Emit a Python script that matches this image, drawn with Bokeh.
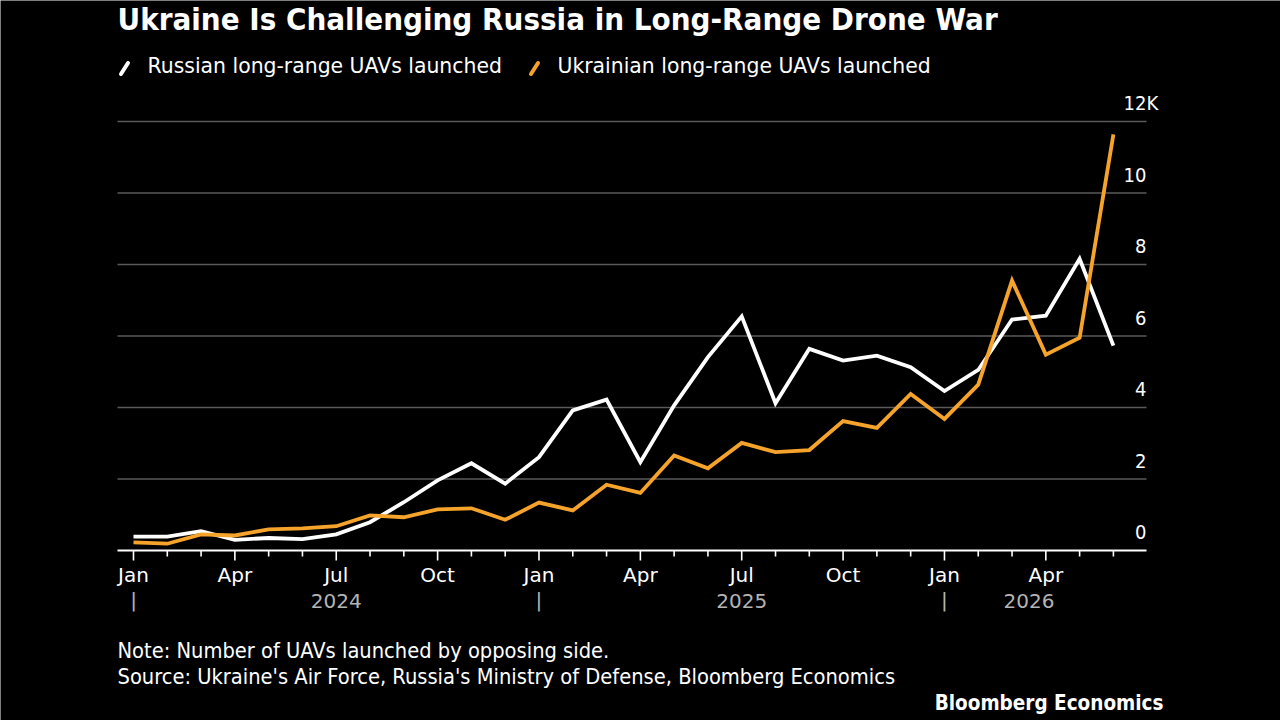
from bokeh.plotting import figure
from bokeh.models import Range1d, Label
from bokeh.embed import file_html
from bokeh.resources import INLINE
from bokeh.core.properties import value
import pandas as pd

# ---------------- data ----------------
months = pd.date_range("2024-01-01", "2026-06-01", freq="MS")
russia = [390, 390, 540, 300, 350, 320, 450, 790, 1350, 1960, 2440, 1870,
          2610, 3920, 4220, 2470, 4060, 5410, 6550, 4120, 5640, 5310, 5450, 5130,
          4460, 5050, 6460, 6570, 8160, 5730]
ukraine = [230, 190, 450, 420, 590, 620, 680, 980, 930, 1150, 1180, 860,
           1340, 1120, 1840, 1610, 2660, 2300, 3010, 2750, 2810, 3620, 3430, 4380,
           3680, 4640, 7550, 5480, 5950, 11640]
y_ticks = [0, 2000, 4000, 6000, 8000, 10000, 12000]
y_tick_labels = ["0", "2", "4", "6", "8", "10", "12"]
y_unit_suffix = "K"
month_tick_names = {1: "Jan", 4: "Apr", 7: "Jul", 10: "Oct"}
series_names = ["Russian long-range UAVs launched", "Ukrainian long-range UAVs launched"]
title_text = "Ukraine Is Challenging Russia in Long-Range Drone War"
note_text = "Note: Number of UAVs launched by opposing side."
source_text = "Source: Ukraine's Air Force, Russia's Ministry of Defense, Bloomberg Economics"
brand_text = "Bloomberg Economics"

# ---------------- layout ----------------
W, H = 1280, 720
X0_PX, Y0_PX = 133, 550          # pixel of first month / zero line
PX_PER_MONTH = 33.79
PX_PER_UNIT = 35.75 / 1000
PANEL_L, PANEL_R = 117, 1163
X_LEFT = (PANEL_L - X0_PX) / PX_PER_MONTH
X_RIGHT = (1146 - X0_PX) / PX_PER_MONTH

def px2x(px):
    return (px - X0_PX) / PX_PER_MONTH

def px2y(py):
    return (Y0_PX - py) / PX_PER_UNIT

WHITE = "#ffffff"
ORANGE = "#f5a32a"
GRID = "#5a5a5a"
YEAR_GREY = "#b4b4b4"
REG = "DejaVu Sans"
COND = "DejaVu Sans Condensed"

p = figure(width=W, height=H, output_backend="svg", toolbar_location=None,
           x_range=Range1d(px2x(0), px2x(W)), y_range=Range1d(px2y(H), px2y(0)),
           x_axis_location=None, y_axis_location=None, min_border=0,
           background_fill_color="black", border_fill_color="black",
           outline_line_color=None)
p.grid.visible = False

idx = list(range(len(months)))

# gridlines
gy = [v for v in y_ticks if v != 0]
p.segment(x0=[X_LEFT] * len(gy), x1=[X_RIGHT] * len(gy), y0=gy, y1=gy,
          line_color=GRID, line_width=1.6)
# axis line
p.segment(x0=[X_LEFT], x1=[X_RIGHT], y0=[y_ticks[0]], y1=[y_ticks[0]],
          line_color=WHITE, line_width=2)
# ticks
major = [i for i, m in zip(idx, months) if m.month in month_tick_names]
minor = [i for i, m in zip(idx, months) if m.month not in month_tick_names]
p.segment(x0=major, x1=major, y0=[0] * len(major), y1=[-10 / PX_PER_UNIT] * len(major),
          line_color=WHITE, line_width=1.6)
p.segment(x0=minor, x1=minor, y0=[0] * len(minor), y1=[-6 / PX_PER_UNIT] * len(minor),
          line_color=WHITE, line_width=1.6)

# month labels (y_offset = vertical centre of capitals below zero line)
p.text(x=major, y=[0] * len(major),
       text=[month_tick_names[months[i].month] for i in major],
       text_color=WHITE, text_font=value(REG), text_font_size="20px",
       text_align="center", text_baseline="alphabetic", y_offset=24.5)

# year labels
years = sorted(set(m.year for m in months))
year_centers, year_starts = [], []
for yv in years:
    ii = [i for i, m in zip(idx, months) if m.year == yv]
    start = ii[0]
    end = min(start + 12, idx[-1])
    year_centers.append((start + end) / 2)
    year_starts.append(start)
p.text(x=year_centers, y=[0] * len(years), text=[str(y) for y in years],
       text_color=YEAR_GREY, text_font=value(REG), text_font_size="20px",
       text_align="center", text_baseline="alphabetic", y_offset=50.5)
p.text(x=year_starts, y=[0] * len(years), text=["|"] * len(years),
       text_color=YEAR_GREY, text_font=value(REG), text_font_size="20px",
       text_align="center", text_baseline="alphabetic", y_offset=49.5)

# y labels
p.text(x=[X_RIGHT] * len(y_ticks), y=y_ticks, text=y_tick_labels,
       text_color=WHITE, text_font=value(COND), text_font_size="20px",
       text_align="right", text_baseline="alphabetic", y_offset=-18.3)
p.text(x=[X_RIGHT], y=[y_ticks[-1]], text=[y_unit_suffix],
       text_color=WHITE, text_font=value(COND), text_font_size="20px",
       text_align="left", text_baseline="alphabetic", y_offset=-18.3)

# series
p.line(idx, russia, line_color=WHITE, line_width=3.8, line_join="miter")
p.line(idx, ukraine, line_color=ORANGE, line_width=3.8, line_join="miter")

# legend (custom slanted swatches)
for (sx, tx, col, name) in [(118, 147, WHITE, series_names[0]), (528, 557, ORANGE, series_names[1])]:
    p.segment(x0=[px2x(sx + 2.5)], y0=[px2y(73.5)], x1=[px2x(sx + 9.5)], y1=[px2y(62.5)],
              line_color=col, line_width=4, line_cap="round")
    p.add_layout(Label(x=px2x(tx), y=px2y(65.5), text=name, text_color=WHITE,
                       text_font=REG, text_font_size="20.4px",
                       text_baseline="alphabetic"))

p.add_layout(Label(x=px2x(PANEL_L), y=px2y(18.5), text=title_text, text_color=WHITE,
                   text_font=COND, text_font_style="bold", text_font_size="31px",
                   text_baseline="alphabetic"))
p.add_layout(Label(x=px2x(PANEL_L), y=px2y(649.5), text=note_text, text_color=WHITE,
                   text_font=COND, text_font_size="21.7px", text_baseline="alphabetic"))
p.add_layout(Label(x=px2x(PANEL_L), y=px2y(676), text=source_text, text_color=WHITE,
                   text_font=COND, text_font_size="21.7px", text_baseline="alphabetic"))
p.add_layout(Label(x=px2x(PANEL_R), y=px2y(702.5), text=brand_text, text_color=WHITE,
                   text_font=COND, text_font_style="bold", text_font_size="20.5px",
                   text_align="right", text_baseline="alphabetic"))

open("out.html", "w").write(file_html(p, INLINE))
